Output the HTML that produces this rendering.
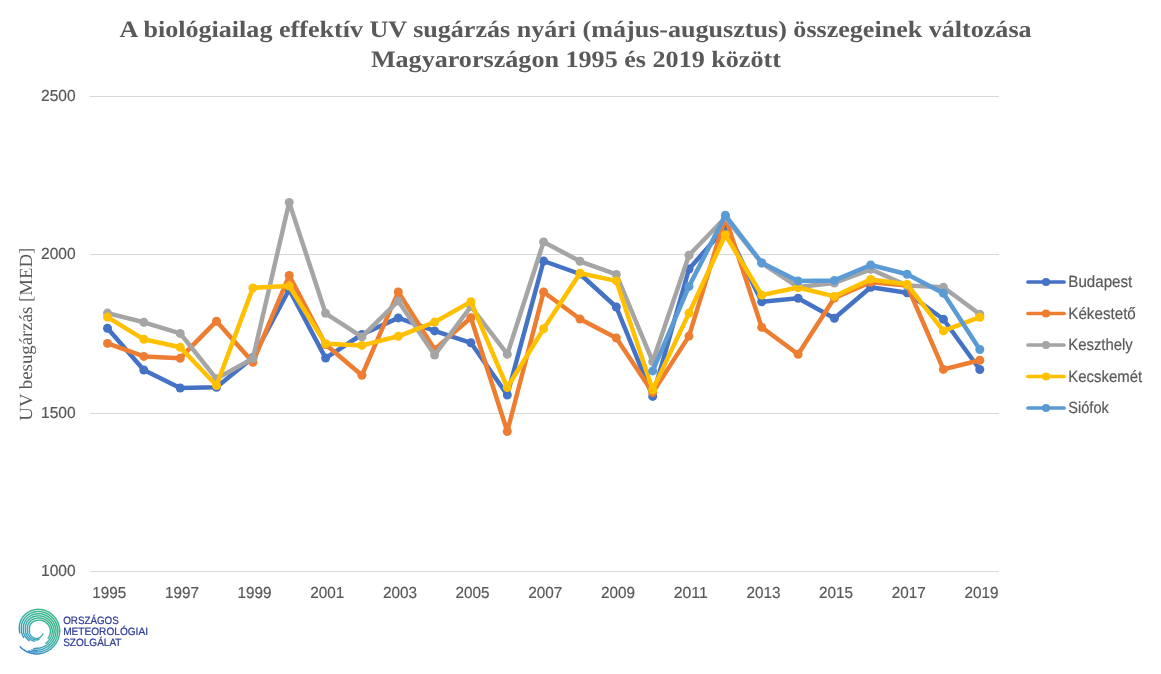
<!DOCTYPE html>
<html><head><meta charset="utf-8"><style>
html,body{margin:0;padding:0;background:#fff;}
svg{display:block;will-change:transform;}
text{text-rendering:geometricPrecision;}
.t{font-family:"Liberation Serif",serif;font-weight:bold;font-size:23.5px;fill:#595959;}
.ax{font-family:"Liberation Sans",sans-serif;font-size:16px;fill:#595959;stroke:#595959;stroke-width:0.2px;}
.yt{font-family:"Liberation Serif",serif;font-size:18.5px;fill:#595959;}
.lg{font-family:"Liberation Sans",sans-serif;font-size:16.2px;}
.lg text{fill:#595959;stroke:#595959;stroke-width:0.2px;}
.lo{font-family:"Liberation Sans",sans-serif;font-size:10.6px;fill:#2D3A96;stroke:#2D3A96;stroke-width:0.22px;}
</style></head><body>
<svg width="1161" height="674" viewBox="0 0 1161 674">
<defs><linearGradient id="lg" x1="56" y1="612" x2="22" y2="650" gradientUnits="userSpaceOnUse"><stop offset="0" stop-color="#34B784"/><stop offset="0.4" stop-color="#36B296"/><stop offset="0.68" stop-color="#3BA4B6"/><stop offset="1" stop-color="#2878CC"/></linearGradient></defs>
<rect width="1161" height="674" fill="#fff"/>
<g class="t" text-anchor="middle">
<text x="575.6" y="36.8" textLength="912" lengthAdjust="spacingAndGlyphs">A biológiailag effektív UV sugárzás nyári (május-augusztus) összegeinek változása</text>
<text x="575.9" y="66.6" textLength="410" lengthAdjust="spacingAndGlyphs">Magyarországon 1995 és 2019 között</text>
</g>
<line x1="90" x2="999" y1="96.5" y2="96.5" stroke="#D9D9D9" stroke-width="1"/><line x1="90" x2="999" y1="254.5" y2="254.5" stroke="#D9D9D9" stroke-width="1"/><line x1="90" x2="999" y1="413.5" y2="413.5" stroke="#D9D9D9" stroke-width="1"/><line x1="90" x2="999" y1="571.5" y2="571.5" stroke="#D9D9D9" stroke-width="1"/>
<g class="ax"><text x="75.6" y="101.3" text-anchor="end" textLength="34.6" lengthAdjust="spacingAndGlyphs">2500</text><text x="75.6" y="259.4" text-anchor="end" textLength="34.6" lengthAdjust="spacingAndGlyphs">2000</text><text x="75.6" y="418.3" text-anchor="end" textLength="34.6" lengthAdjust="spacingAndGlyphs">1500</text><text x="75.6" y="576.1" text-anchor="end" textLength="34.6" lengthAdjust="spacingAndGlyphs">1000</text><text x="109.2" y="597.9" text-anchor="middle" textLength="34" lengthAdjust="spacingAndGlyphs">1995</text><text x="181.9" y="597.9" text-anchor="middle" textLength="34" lengthAdjust="spacingAndGlyphs">1997</text><text x="254.6" y="597.9" text-anchor="middle" textLength="34" lengthAdjust="spacingAndGlyphs">1999</text><text x="327.3" y="597.9" text-anchor="middle" textLength="34" lengthAdjust="spacingAndGlyphs">2001</text><text x="400.0" y="597.9" text-anchor="middle" textLength="34" lengthAdjust="spacingAndGlyphs">2003</text><text x="472.6" y="597.9" text-anchor="middle" textLength="34" lengthAdjust="spacingAndGlyphs">2005</text><text x="545.3" y="597.9" text-anchor="middle" textLength="34" lengthAdjust="spacingAndGlyphs">2007</text><text x="618.0" y="597.9" text-anchor="middle" textLength="34" lengthAdjust="spacingAndGlyphs">2009</text><text x="690.7" y="597.9" text-anchor="middle" textLength="34" lengthAdjust="spacingAndGlyphs">2011</text><text x="763.4" y="597.9" text-anchor="middle" textLength="34" lengthAdjust="spacingAndGlyphs">2013</text><text x="836.1" y="597.9" text-anchor="middle" textLength="34" lengthAdjust="spacingAndGlyphs">2015</text><text x="908.8" y="597.9" text-anchor="middle" textLength="34" lengthAdjust="spacingAndGlyphs">2017</text><text x="981.5" y="597.9" text-anchor="middle" textLength="34" lengthAdjust="spacingAndGlyphs">2019</text></g>
<text class="yt" transform="translate(31.5,334.2) rotate(-90)" text-anchor="middle" textLength="173" lengthAdjust="spacingAndGlyphs">UV besugárzás [MED]</text>
<path d="M107.5,328.3 L143.8,370.0 L180.2,388.0 L216.5,387.3 L252.9,357.5 L289.2,289.5 L325.6,358.1 L361.9,334.5 L398.3,317.9 L434.6,330.9 L470.9,342.8 L507.3,395.0 L543.6,261.0 L580.0,274.0 L616.3,307.0 L652.7,396.4 L689.0,269.0 L725.4,227.5 L761.7,301.8 L798.1,298.2 L834.4,318.3 L870.7,287.2 L907.1,292.8 L943.4,319.3 L979.8,369.5" fill="none" stroke="#4472C4" stroke-width="4.5" stroke-linejoin="round" stroke-linecap="round"/><circle cx="107.5" cy="328.3" r="4.5" fill="#4472C4"/><circle cx="143.8" cy="370.0" r="4.5" fill="#4472C4"/><circle cx="180.2" cy="388.0" r="4.5" fill="#4472C4"/><circle cx="216.5" cy="387.3" r="4.5" fill="#4472C4"/><circle cx="252.9" cy="357.5" r="4.5" fill="#4472C4"/><circle cx="289.2" cy="289.5" r="4.5" fill="#4472C4"/><circle cx="325.6" cy="358.1" r="4.5" fill="#4472C4"/><circle cx="361.9" cy="334.5" r="4.5" fill="#4472C4"/><circle cx="398.3" cy="317.9" r="4.5" fill="#4472C4"/><circle cx="434.6" cy="330.9" r="4.5" fill="#4472C4"/><circle cx="470.9" cy="342.8" r="4.5" fill="#4472C4"/><circle cx="507.3" cy="395.0" r="4.5" fill="#4472C4"/><circle cx="543.6" cy="261.0" r="4.5" fill="#4472C4"/><circle cx="580.0" cy="274.0" r="4.5" fill="#4472C4"/><circle cx="616.3" cy="307.0" r="4.5" fill="#4472C4"/><circle cx="652.7" cy="396.4" r="4.5" fill="#4472C4"/><circle cx="689.0" cy="269.0" r="4.5" fill="#4472C4"/><circle cx="725.4" cy="227.5" r="4.5" fill="#4472C4"/><circle cx="761.7" cy="301.8" r="4.5" fill="#4472C4"/><circle cx="798.1" cy="298.2" r="4.5" fill="#4472C4"/><circle cx="834.4" cy="318.3" r="4.5" fill="#4472C4"/><circle cx="870.7" cy="287.2" r="4.5" fill="#4472C4"/><circle cx="907.1" cy="292.8" r="4.5" fill="#4472C4"/><circle cx="943.4" cy="319.3" r="4.5" fill="#4472C4"/><circle cx="979.8" cy="369.5" r="4.5" fill="#4472C4"/><path d="M107.5,343.4 L143.8,356.4 L180.2,358.2 L216.5,321.2 L252.9,362.3 L289.2,275.5 L325.6,344.5 L361.9,375.3 L398.3,291.9 L434.6,349.4 L470.9,317.8 L507.3,431.5 L543.6,292.0 L580.0,319.0 L616.3,338.0 L652.7,392.6 L689.0,336.1 L725.4,217.5 L761.7,327.3 L798.1,354.3 L834.4,298.0 L870.7,282.3 L907.1,285.5 L943.4,369.4 L979.8,360.2" fill="none" stroke="#ED7D31" stroke-width="4.5" stroke-linejoin="round" stroke-linecap="round"/><circle cx="107.5" cy="343.4" r="4.5" fill="#ED7D31"/><circle cx="143.8" cy="356.4" r="4.5" fill="#ED7D31"/><circle cx="180.2" cy="358.2" r="4.5" fill="#ED7D31"/><circle cx="216.5" cy="321.2" r="4.5" fill="#ED7D31"/><circle cx="252.9" cy="362.3" r="4.5" fill="#ED7D31"/><circle cx="289.2" cy="275.5" r="4.5" fill="#ED7D31"/><circle cx="325.6" cy="344.5" r="4.5" fill="#ED7D31"/><circle cx="361.9" cy="375.3" r="4.5" fill="#ED7D31"/><circle cx="398.3" cy="291.9" r="4.5" fill="#ED7D31"/><circle cx="434.6" cy="349.4" r="4.5" fill="#ED7D31"/><circle cx="470.9" cy="317.8" r="4.5" fill="#ED7D31"/><circle cx="507.3" cy="431.5" r="4.5" fill="#ED7D31"/><circle cx="543.6" cy="292.0" r="4.5" fill="#ED7D31"/><circle cx="580.0" cy="319.0" r="4.5" fill="#ED7D31"/><circle cx="616.3" cy="338.0" r="4.5" fill="#ED7D31"/><circle cx="652.7" cy="392.6" r="4.5" fill="#ED7D31"/><circle cx="689.0" cy="336.1" r="4.5" fill="#ED7D31"/><circle cx="725.4" cy="217.5" r="4.5" fill="#ED7D31"/><circle cx="761.7" cy="327.3" r="4.5" fill="#ED7D31"/><circle cx="798.1" cy="354.3" r="4.5" fill="#ED7D31"/><circle cx="834.4" cy="298.0" r="4.5" fill="#ED7D31"/><circle cx="870.7" cy="282.3" r="4.5" fill="#ED7D31"/><circle cx="907.1" cy="285.5" r="4.5" fill="#ED7D31"/><circle cx="943.4" cy="369.4" r="4.5" fill="#ED7D31"/><circle cx="979.8" cy="360.2" r="4.5" fill="#ED7D31"/><path d="M107.5,313.1 L143.8,322.3 L180.2,333.4 L216.5,378.8 L252.9,358.4 L289.2,202.4 L325.6,313.3 L361.9,336.9 L398.3,300.9 L434.6,355.1 L470.9,306.5 L507.3,354.2 L543.6,241.9 L580.0,261.3 L616.3,274.4 L652.7,361.6 L689.0,255.2 L725.4,217.5 L761.7,263.0 L798.1,287.0 L834.4,283.0 L870.7,269.3 L907.1,285.5 L943.4,287.3 L979.8,314.3" fill="none" stroke="#A5A5A5" stroke-width="4.5" stroke-linejoin="round" stroke-linecap="round"/><circle cx="107.5" cy="313.1" r="4.5" fill="#A5A5A5"/><circle cx="143.8" cy="322.3" r="4.5" fill="#A5A5A5"/><circle cx="180.2" cy="333.4" r="4.5" fill="#A5A5A5"/><circle cx="216.5" cy="378.8" r="4.5" fill="#A5A5A5"/><circle cx="252.9" cy="358.4" r="4.5" fill="#A5A5A5"/><circle cx="289.2" cy="202.4" r="4.5" fill="#A5A5A5"/><circle cx="325.6" cy="313.3" r="4.5" fill="#A5A5A5"/><circle cx="361.9" cy="336.9" r="4.5" fill="#A5A5A5"/><circle cx="398.3" cy="300.9" r="4.5" fill="#A5A5A5"/><circle cx="434.6" cy="355.1" r="4.5" fill="#A5A5A5"/><circle cx="470.9" cy="306.5" r="4.5" fill="#A5A5A5"/><circle cx="507.3" cy="354.2" r="4.5" fill="#A5A5A5"/><circle cx="543.6" cy="241.9" r="4.5" fill="#A5A5A5"/><circle cx="580.0" cy="261.3" r="4.5" fill="#A5A5A5"/><circle cx="616.3" cy="274.4" r="4.5" fill="#A5A5A5"/><circle cx="652.7" cy="361.6" r="4.5" fill="#A5A5A5"/><circle cx="689.0" cy="255.2" r="4.5" fill="#A5A5A5"/><circle cx="725.4" cy="217.5" r="4.5" fill="#A5A5A5"/><circle cx="761.7" cy="263.0" r="4.5" fill="#A5A5A5"/><circle cx="798.1" cy="287.0" r="4.5" fill="#A5A5A5"/><circle cx="834.4" cy="283.0" r="4.5" fill="#A5A5A5"/><circle cx="870.7" cy="269.3" r="4.5" fill="#A5A5A5"/><circle cx="907.1" cy="285.5" r="4.5" fill="#A5A5A5"/><circle cx="943.4" cy="287.3" r="4.5" fill="#A5A5A5"/><circle cx="979.8" cy="314.3" r="4.5" fill="#A5A5A5"/><path d="M107.5,317.1 L143.8,339.3 L180.2,347.2 L216.5,385.5 L252.9,287.9 L289.2,286.0 L325.6,343.7 L361.9,345.4 L398.3,336.3 L434.6,322.1 L470.9,301.8 L507.3,387.5 L543.6,328.7 L580.0,273.3 L616.3,280.9 L652.7,389.9 L689.0,313.1 L725.4,234.8 L761.7,295.0 L798.1,287.5 L834.4,296.4 L870.7,279.4 L907.1,284.3 L943.4,330.9 L979.8,317.2" fill="none" stroke="#FFC000" stroke-width="4.5" stroke-linejoin="round" stroke-linecap="round"/><circle cx="107.5" cy="317.1" r="4.5" fill="#FFC000"/><circle cx="143.8" cy="339.3" r="4.5" fill="#FFC000"/><circle cx="180.2" cy="347.2" r="4.5" fill="#FFC000"/><circle cx="216.5" cy="385.5" r="4.5" fill="#FFC000"/><circle cx="252.9" cy="287.9" r="4.5" fill="#FFC000"/><circle cx="289.2" cy="286.0" r="4.5" fill="#FFC000"/><circle cx="325.6" cy="343.7" r="4.5" fill="#FFC000"/><circle cx="361.9" cy="345.4" r="4.5" fill="#FFC000"/><circle cx="398.3" cy="336.3" r="4.5" fill="#FFC000"/><circle cx="434.6" cy="322.1" r="4.5" fill="#FFC000"/><circle cx="470.9" cy="301.8" r="4.5" fill="#FFC000"/><circle cx="507.3" cy="387.5" r="4.5" fill="#FFC000"/><circle cx="543.6" cy="328.7" r="4.5" fill="#FFC000"/><circle cx="580.0" cy="273.3" r="4.5" fill="#FFC000"/><circle cx="616.3" cy="280.9" r="4.5" fill="#FFC000"/><circle cx="652.7" cy="389.9" r="4.5" fill="#FFC000"/><circle cx="689.0" cy="313.1" r="4.5" fill="#FFC000"/><circle cx="725.4" cy="234.8" r="4.5" fill="#FFC000"/><circle cx="761.7" cy="295.0" r="4.5" fill="#FFC000"/><circle cx="798.1" cy="287.5" r="4.5" fill="#FFC000"/><circle cx="834.4" cy="296.4" r="4.5" fill="#FFC000"/><circle cx="870.7" cy="279.4" r="4.5" fill="#FFC000"/><circle cx="907.1" cy="284.3" r="4.5" fill="#FFC000"/><circle cx="943.4" cy="330.9" r="4.5" fill="#FFC000"/><circle cx="979.8" cy="317.2" r="4.5" fill="#FFC000"/><path d="M652.7,370.9 L689.0,286.4 L725.4,215.3 L761.7,262.8 L798.1,281.0 L834.4,280.4 L870.7,265.0 L907.1,274.2 L943.4,293.2 L979.8,349.5" fill="none" stroke="#5B9BD5" stroke-width="4.5" stroke-linejoin="round" stroke-linecap="round"/><circle cx="652.7" cy="370.9" r="4.5" fill="#5B9BD5"/><circle cx="689.0" cy="286.4" r="4.5" fill="#5B9BD5"/><circle cx="725.4" cy="215.3" r="4.5" fill="#5B9BD5"/><circle cx="761.7" cy="262.8" r="4.5" fill="#5B9BD5"/><circle cx="798.1" cy="281.0" r="4.5" fill="#5B9BD5"/><circle cx="834.4" cy="280.4" r="4.5" fill="#5B9BD5"/><circle cx="870.7" cy="265.0" r="4.5" fill="#5B9BD5"/><circle cx="907.1" cy="274.2" r="4.5" fill="#5B9BD5"/><circle cx="943.4" cy="293.2" r="4.5" fill="#5B9BD5"/><circle cx="979.8" cy="349.5" r="4.5" fill="#5B9BD5"/>
<g class="lg"><line x1="1028" x2="1064" y1="282.0" y2="282.0" stroke="#4472C4" stroke-width="3.7" stroke-linecap="round"/><circle cx="1046" cy="282.0" r="4.1" fill="#4472C4"/><text x="1068.3" y="287.0" textLength="64" lengthAdjust="spacingAndGlyphs">Budapest</text><line x1="1028" x2="1064" y1="313.5" y2="313.5" stroke="#ED7D31" stroke-width="3.7" stroke-linecap="round"/><circle cx="1046" cy="313.5" r="4.1" fill="#ED7D31"/><text x="1068.3" y="318.5" textLength="67.5" lengthAdjust="spacingAndGlyphs">Kékestető</text><line x1="1028" x2="1064" y1="345.0" y2="345.0" stroke="#A5A5A5" stroke-width="3.7" stroke-linecap="round"/><circle cx="1046" cy="345.0" r="4.1" fill="#A5A5A5"/><text x="1068.3" y="350.0" textLength="64.5" lengthAdjust="spacingAndGlyphs">Keszthely</text><line x1="1028" x2="1064" y1="376.5" y2="376.5" stroke="#FFC000" stroke-width="3.7" stroke-linecap="round"/><circle cx="1046" cy="376.5" r="4.1" fill="#FFC000"/><text x="1068.3" y="381.5" textLength="73.8" lengthAdjust="spacingAndGlyphs">Kecskemét</text><line x1="1028" x2="1064" y1="408.0" y2="408.0" stroke="#5B9BD5" stroke-width="3.7" stroke-linecap="round"/><circle cx="1046" cy="408.0" r="4.1" fill="#5B9BD5"/><text x="1068.3" y="413.0" textLength="40.5" lengthAdjust="spacingAndGlyphs">Siófok</text></g>
<path d="M42.82,633.65 L42.68,634.01 L42.51,634.37 L42.33,634.71 L42.12,635.05 L41.89,635.39 L41.65,635.71 L41.39,636.02 L41.10,636.32 L40.80,636.61 L40.48,636.88 L40.15,637.13 L39.80,637.37 L39.43,637.60 L39.05,637.80 L38.66,637.99 L38.25,638.15 L37.83,638.30 L37.41,638.42 L36.97,638.52 L36.52,638.60 L36.08,638.54 L35.64,638.45 L35.21,638.34 L34.78,638.21 L34.37,638.06 L33.97,637.89 L33.58,637.70 L33.20,637.48 L32.84,637.25 L32.49,637.01 L32.16,636.74 L31.85,636.46 L31.55,636.17 L31.27,635.87 L31.01,635.55 L30.77,635.22 L30.54,634.88 L30.34,634.53 L30.16,634.17 L29.99,633.81 L29.85,633.44 L29.73,633.06 L29.63,632.69 L29.55,632.31 L29.49,631.93 L29.45,631.55 L29.43,631.17 L29.43,630.79 L29.45,630.42 L29.49,630.05 L29.44,629.68 L29.38,629.31 L29.34,628.92 L29.33,628.53 L29.33,628.14 L29.36,627.74 L29.41,627.34 L29.48,626.95 L29.58,626.55 L29.69,626.15 L29.83,625.75 L30.00,625.36 L30.18,624.98 L30.39,624.60 L30.62,624.23 L30.88,623.87 L31.15,623.52 L31.45,623.18 L31.76,622.86 L32.10,622.55 L32.46,622.26 L32.83,621.98 L33.22,621.72 L33.63,621.49 L34.06,621.27 L34.50,621.07 L34.96,620.90 L35.42,620.75 L35.90,620.62 L36.39,620.52 L36.89,620.39 L37.41,620.28 L37.93,620.19 L38.47,620.13 L39.02,620.10 L39.58,620.10 L40.15,620.14 L40.71,620.20 L41.29,620.30 L41.86,620.44 L42.43,620.60 L43.00,620.80 L43.56,621.04 L44.12,621.30 L44.67,621.61 L45.20,621.94 L45.73,622.31 L46.24,622.72 L46.73,623.15 L47.20,623.62 L47.65,624.11 L48.08,624.64 L48.48,625.20 L48.86,625.78 L49.20,626.39 L49.52,627.03 L49.81,627.68 L50.06,628.36 L50.27,629.06 L50.45,629.78 L50.50,630.51 L50.47,631.24 L50.41,631.97 L50.30,632.70 L50.16,633.42 L49.98,634.13 L49.76,634.84 L49.50,635.53 L49.21,636.21 L48.88,636.87 L48.52,637.51 L48.13,638.14" fill="none" stroke="url(#lg)" stroke-width="1.45" stroke-linecap="round" stroke-linejoin="round"/><path d="M39.00,639.32 L38.52,639.50 L38.04,639.66 L37.54,639.79 L37.03,639.90 L36.52,639.98 L36.00,639.94 L35.48,639.87 L34.98,639.77 L34.48,639.64 L33.99,639.49 L33.51,639.32 L33.04,639.12 L32.58,638.90 L32.14,638.66 L31.71,638.39 L31.29,638.10 L30.90,637.80 L30.52,637.47 L30.16,637.12 L29.82,636.76 L29.50,636.38 L29.20,635.99 L28.93,635.58 L28.67,635.16 L28.44,634.73 L28.24,634.29 L28.05,633.84 L27.89,633.39 L27.76,632.93 L27.65,632.46 L27.56,631.99 L27.50,631.52 L27.47,631.04 L27.46,630.57 L27.47,630.10 L27.42,629.62 L27.36,629.14 L27.33,628.66 L27.32,628.16 L27.34,627.67 L27.39,627.17 L27.47,626.67 L27.57,626.16 L27.70,625.67 L27.86,625.17 L28.05,624.68 L28.26,624.20 L28.51,623.72 L28.78,623.25 L29.07,622.80 L29.40,622.36 L29.75,621.93 L30.12,621.52 L30.52,621.12 L30.95,620.75 L31.39,620.39 L31.86,620.06 L32.35,619.75 L32.86,619.46 L33.39,619.20 L33.94,618.97 L34.50,618.76 L35.08,618.58 L35.67,618.43 L36.27,618.32 L36.88,618.20 L37.50,618.10 L38.14,618.03 L38.79,618.00 L39.44,618.00 L40.10,618.04 L40.76,618.12 L41.43,618.23 L42.09,618.38 L42.76,618.57 L43.41,618.79 L44.07,619.05 L44.71,619.35 L45.34,619.69 L45.96,620.07 L46.56,620.48 L47.15,620.93 L47.71,621.41 L48.26,621.93 L48.78,622.48 L49.27,623.06 L49.74,623.68 L50.18,624.32 L50.58,625.00 L50.95,625.70 L51.29,626.42 L51.59,627.17 L51.85,627.94 L52.08,628.73 L52.26,629.54 L52.34,630.36 L52.32,631.19 L52.26,632.01 L52.15,632.83 L52.00,633.65 L51.81,634.45 L51.57,635.25 L51.29,636.04 L50.98,636.80 L50.62,637.56 L50.22,638.29 L49.79,639.00 L49.32,639.70 L48.81,640.36 L48.27,641.00 L47.69,641.61 L47.08,642.19 L46.45,642.74 L45.78,643.26" fill="none" stroke="url(#lg)" stroke-width="1.45" stroke-linecap="round" stroke-linejoin="round"/><path d="M34.53,641.15 L33.96,641.02 L33.39,640.87 L32.83,640.68 L32.29,640.47 L31.75,640.22 L31.23,639.95 L30.73,639.66 L30.24,639.33 L29.77,638.99 L29.31,638.61 L28.88,638.22 L28.47,637.81 L28.09,637.37 L27.72,636.92 L27.38,636.44 L27.07,635.96 L26.78,635.45 L26.52,634.93 L26.29,634.40 L26.08,633.86 L25.90,633.31 L25.76,632.75 L25.64,632.19 L25.55,631.62 L25.49,631.04 L25.46,630.47 L25.44,629.89 L25.37,629.31 L25.32,628.72 L25.31,628.13 L25.33,627.53 L25.38,626.92 L25.46,626.32 L25.58,625.71 L25.73,625.11 L25.91,624.51 L26.13,623.92 L26.38,623.34 L26.66,622.76 L26.98,622.20 L27.33,621.65 L27.71,621.12 L28.12,620.60 L28.56,620.10 L29.03,619.62 L29.53,619.17 L30.05,618.73 L30.60,618.33 L31.18,617.95 L31.78,617.60 L32.40,617.28 L33.05,616.99 L33.71,616.73 L34.39,616.51 L35.08,616.32 L35.79,616.17 L36.51,616.06 L37.24,615.95 L37.99,615.89 L38.74,615.86 L39.50,615.88 L40.26,615.93 L41.03,616.03 L41.79,616.17 L42.55,616.35 L43.31,616.57 L44.06,616.84 L44.81,617.14 L45.54,617.49 L46.25,617.88 L46.95,618.32 L47.63,618.79 L48.29,619.30 L48.93,619.85 L49.54,620.44 L50.13,621.06 L50.68,621.72 L51.20,622.41 L51.69,623.14 L52.14,623.89 L52.56,624.67 L52.93,625.48 L53.27,626.32 L53.56,627.18 L53.80,628.05 L54.01,628.95 L54.16,629.86 L54.18,630.78 L54.14,631.70 L54.04,632.62 L53.90,633.54 L53.72,634.44 L53.48,635.34 L53.20,636.22 L52.87,637.09 L52.50,637.94 L52.08,638.77 L51.62,639.58 L51.12,640.37 L50.58,641.13 L49.99,641.86 L49.37,642.56 L48.71,643.23 L48.02,643.86 L47.30,644.46 L46.54,645.02 L45.76,645.54 L44.95,646.02 L44.11,646.45 L43.25,646.85 L42.37,647.20 L41.47,647.50 L40.56,647.75 L39.63,647.96 L38.70,648.12 L37.75,648.23 L36.80,648.29 L35.85,648.36 L34.88,648.41 L33.91,648.41" fill="none" stroke="url(#lg)" stroke-width="1.45" stroke-linecap="round" stroke-linejoin="round"/><path d="M29.12,640.54 L28.58,640.15 L28.06,639.73 L27.55,639.29 L27.08,638.82 L26.62,638.33 L26.20,637.81 L25.80,637.27 L25.43,636.71 L25.08,636.13 L24.77,635.54 L24.49,634.92 L24.24,634.30 L24.02,633.66 L23.84,633.01 L23.69,632.35 L23.58,631.68 L23.50,631.01 L23.45,630.34 L23.39,629.66 L23.33,628.97 L23.30,628.27 L23.30,627.57 L23.35,626.87 L23.43,626.16 L23.55,625.45 L23.71,624.75 L23.90,624.05 L24.14,623.35 L24.41,622.67 L24.73,621.99 L25.07,621.33 L25.46,620.69 L25.88,620.06 L26.34,619.44 L26.84,618.85 L27.37,618.29 L27.93,617.75 L28.52,617.23 L29.14,616.74 L29.80,616.29 L30.48,615.86 L31.18,615.48 L31.91,615.12 L32.67,614.80 L33.44,614.52 L34.23,614.29 L35.04,614.09 L35.86,613.93 L36.70,613.81 L37.55,613.74 L38.40,613.70 L39.26,613.71 L40.13,613.77 L41.00,613.87 L41.86,614.02 L42.72,614.22 L43.58,614.46 L44.43,614.75 L45.27,615.09 L46.09,615.47 L46.89,615.90 L47.68,616.37 L48.45,616.89 L49.19,617.45 L49.91,618.05 L50.60,618.69 L51.26,619.37 L51.88,620.09 L52.47,620.85 L53.02,621.64 L53.54,622.46 L54.01,623.32 L54.44,624.20 L54.82,625.11 L55.16,626.04 L55.45,627.00 L55.69,627.97 L55.88,628.97 L56.02,629.97 L56.02,630.99 L55.96,632.00 L55.85,633.01 L55.69,634.02 L55.48,635.01 L55.22,636.00 L54.90,636.97 L54.54,637.92 L54.12,638.86 L53.66,639.77 L53.15,640.66 L52.59,641.52 L51.99,642.35 L51.34,643.16 L50.66,643.92 L49.93,644.66 L49.17,645.35 L48.37,646.01 L47.53,646.62 L46.67,647.19 L45.77,647.71 L44.85,648.19 L43.90,648.62 L42.93,649.00 L41.95,649.33 L40.94,649.61 L39.92,649.83 L38.89,650.01 L37.85,650.13 L36.81,650.19 L35.76,650.23 L34.70,650.22 L33.65,650.16 L32.59,650.04 L31.55,649.87" fill="none" stroke="url(#lg)" stroke-width="1.45" stroke-linecap="round" stroke-linejoin="round"/><path d="M23.72,637.38 L23.32,636.72 L22.96,636.03 L22.63,635.33 L22.34,634.61 L22.09,633.87 L21.88,633.12 L21.70,632.36 L21.57,631.59 L21.47,630.81 L21.42,630.02 L21.33,629.23 L21.28,628.43 L21.28,627.62 L21.32,626.81 L21.40,625.99 L21.52,625.18 L21.69,624.36 L21.91,623.55 L22.16,622.75 L22.47,621.96 L22.81,621.18 L23.20,620.41 L23.64,619.66 L24.11,618.93 L24.63,618.22 L25.18,617.54 L25.78,616.88 L26.42,616.25 L27.09,615.65 L27.79,615.09 L28.53,614.55 L29.30,614.06 L30.10,613.60 L30.93,613.19 L31.79,612.82 L32.67,612.49 L33.57,612.20 L34.49,611.96 L35.43,611.77 L36.38,611.63 L37.34,611.55 L38.31,611.52 L39.29,611.55 L40.27,611.62 L41.25,611.74 L42.22,611.92 L43.19,612.15 L44.16,612.44 L45.11,612.77 L46.04,613.16 L46.96,613.59 L47.86,614.08 L48.74,614.62 L49.59,615.20 L50.41,615.84 L51.20,616.51 L51.96,617.24 L52.69,618.00 L53.38,618.81 L54.02,619.65 L54.63,620.54 L55.18,621.45 L55.70,622.40 L56.16,623.38 L56.57,624.39 L56.94,625.43 L57.25,626.48 L57.50,627.56 L57.70,628.65 L57.84,629.76 L57.86,630.87 L57.81,631.99 L57.70,633.10 L57.54,634.21 L57.31,635.30 L57.03,636.39 L56.69,637.46 L56.30,638.51 L55.85,639.55 L55.35,640.56 L54.79,641.54 L54.18,642.49 L53.53,643.41 L52.82,644.30 L52.07,645.15 L51.28,645.96 L50.44,646.72 L49.56,647.45 L48.65,648.13 L47.70,648.76 L46.72,649.34 L45.70,649.87 L44.67,650.34 L43.60,650.76 L42.51,651.13 L41.41,651.44 L40.29,651.69 L39.15,651.88 L38.01,652.02 L36.86,652.09 L35.71,652.09 L34.55,652.03 L33.41,651.91 L32.27,651.73 L31.14,651.49 L30.02,651.19 L28.92,650.83" fill="none" stroke="url(#lg)" stroke-width="1.45" stroke-linecap="round" stroke-linejoin="round"/><path d="M19.83,632.94 L19.65,632.08 L19.51,631.20 L19.42,630.32 L19.34,629.43 L19.27,628.53 L19.26,627.63 L19.29,626.71 L19.37,625.80 L19.50,624.88 L19.68,623.97 L19.91,623.06 L20.19,622.16 L20.51,621.27 L20.89,620.39 L21.31,619.53 L21.79,618.69 L22.31,617.86 L22.87,617.06 L23.48,616.29 L24.13,615.55 L24.83,614.83 L25.57,614.15 L26.34,613.51 L27.15,612.90 L28.00,612.34 L28.89,611.81 L29.80,611.33 L30.74,610.90 L31.71,610.52 L32.71,610.18 L33.73,609.90 L34.76,609.66 L35.82,609.49 L36.88,609.37 L37.96,609.33 L39.04,609.35 L40.12,609.43 L41.20,609.56 L42.28,609.75 L43.35,609.99 L44.41,610.30 L45.46,610.66 L46.49,611.07 L47.50,611.54 L48.49,612.06 L49.46,612.64 L50.39,613.27 L51.30,613.95 L52.17,614.68 L53.01,615.45 L53.81,616.28 L54.57,617.14 L55.28,618.05 L55.95,619.00 L56.57,619.99 L57.15,621.01 L57.66,622.06 L58.13,623.14 L58.54,624.25 L58.89,625.38 L59.19,626.54 L59.42,627.71 L59.59,628.90 L59.70,630.10 L59.69,631.30 L59.62,632.50 L59.48,633.70 L59.29,634.90 L59.03,636.08 L58.71,637.25 L58.33,638.40 L57.89,639.53 L57.39,640.64 L56.83,641.72 L56.22,642.77 L55.55,643.79 L54.83,644.78 L54.06,645.73 L53.24,646.64 L52.37,647.50 L51.46,648.32 L50.50,649.09 L49.51,649.82 L48.48,650.49 L47.41,651.10 L46.31,651.66 L45.19,652.17 L44.03,652.61 L42.86,653.00 L41.66,653.32 L40.45,653.59 L39.22,653.79 L37.99,653.92 L36.75,653.99 L35.50,653.95 L34.27,653.82 L33.04,653.64 L31.83,653.39 L30.63,653.07 L29.45,652.70 L28.30,652.27 L27.17,651.78 L26.07,651.23 L25.00,650.62 L23.97,649.97 L22.97,649.26 L22.02,648.50 L21.10,647.69 L20.24,646.84" fill="none" stroke="url(#lg)" stroke-width="1.45" stroke-linecap="round" stroke-linejoin="round"/>
<g class="lo">
<text x="63.2" y="624.3" textLength="55.6" lengthAdjust="spacingAndGlyphs">ORSZÁGOS</text>
<text x="63.2" y="635.2" textLength="84.8" lengthAdjust="spacingAndGlyphs">METEOROLÓGIAI</text>
<text x="63.2" y="646.1" textLength="58.3" lengthAdjust="spacingAndGlyphs">SZOLGÁLAT</text>
</g>
</svg>
</body></html>
